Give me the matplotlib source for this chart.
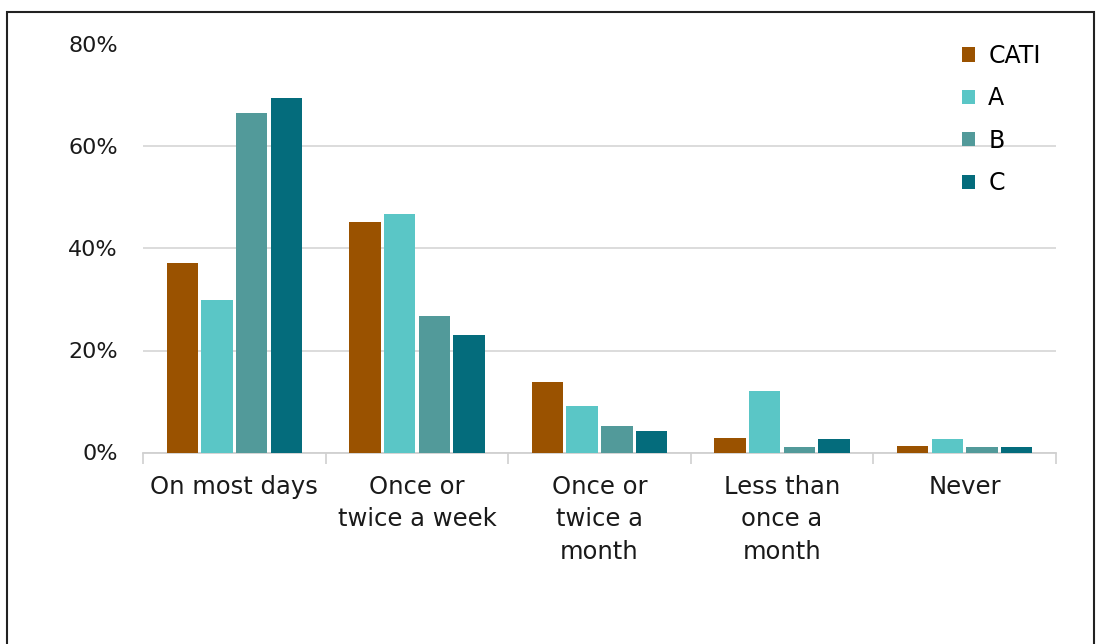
import matplotlib
matplotlib.use("Agg")
import matplotlib.pyplot as plt
from matplotlib.patches import Rectangle
import numpy as np

categories = ["On most days", "Once or\ntwice a week", "Once or\ntwice a\nmonth",
              "Less than\nonce a\nmonth", "Never"]
series_names = ["CATI", "A", "B", "C"]
cati = [37.1, 45.1, 13.8, 2.9, 1.3]
mode_a = [29.9, 46.7, 9.2, 12.0, 2.6]
mode_b = [66.5, 26.7, 5.1, 1.0, 1.0]
mode_c = [69.6, 23.0, 4.2, 2.6, 1.0]
yticks = [0, 20, 40, 60, 80]

colors = ["#9a5200", "#5ac6c6", "#529a9a", "#046c7c"]

plt.rcParams["font.family"] = ["DejaVu Sans"]

fig = plt.figure(figsize=(11.07, 6.44), dpi=100)
ax = fig.add_axes([143 / 1107, 1 - 452.5 / 644, 913 / 1107, 408 / 644])

x = np.arange(len(categories))
step = 0.19
width = 0.172
for i, (name, vals) in enumerate(zip(series_names, [cati, mode_a, mode_b, mode_c])):
    ax.bar(x + (i - 1.5) * step, vals, width, color=colors[i], label=name, zorder=3)

ax.set_xlim(-0.5, len(categories) - 0.5)
ax.set_ylim(0, 80)
ax.set_yticks(yticks)
ax.set_yticklabels([f"{v}%" for v in yticks])
ax.yaxis.grid(True, color="#d9d9d9", linewidth=1.3, zorder=0)
ax.tick_params(axis="y", length=0, pad=18, labelsize=16, labelcolor="#1a1a1a")

ax.set_xticks(x)
ax.set_xticklabels(categories, linespacing=1.45)
ax.set_xticks(np.arange(-0.5, len(categories)), minor=True)
ax.tick_params(axis="x", which="major", length=0, pad=16, labelsize=17.5,
               labelcolor="#1a1a1a")
ax.tick_params(axis="x", which="minor", length=8, width=1.2, color="#d0d0d0")
for lbl in ax.get_xticklabels():
    lbl.set_verticalalignment("top")

for side in ["top", "right", "left"]:
    ax.spines[side].set_visible(False)
ax.spines["bottom"].set_color("#d0d0d0")
ax.spines["bottom"].set_linewidth(1.3)

ax.legend(loc="upper left", bbox_to_anchor=(0.887, 1.025), frameon=False,
          fontsize=17, handlelength=0.55, handleheight=0.55, handletextpad=0.55,
          labelspacing=0.78, borderaxespad=0)

# outer frame around the chart
fig.patches.append(Rectangle((7 / 1107, -0.05), 1087 / 1107, 1.05 - 12 / 644,
                             transform=fig.transFigure, fill=False,
                             edgecolor="#222222", linewidth=1.5))

fig.savefig("out.png", dpi=100)
